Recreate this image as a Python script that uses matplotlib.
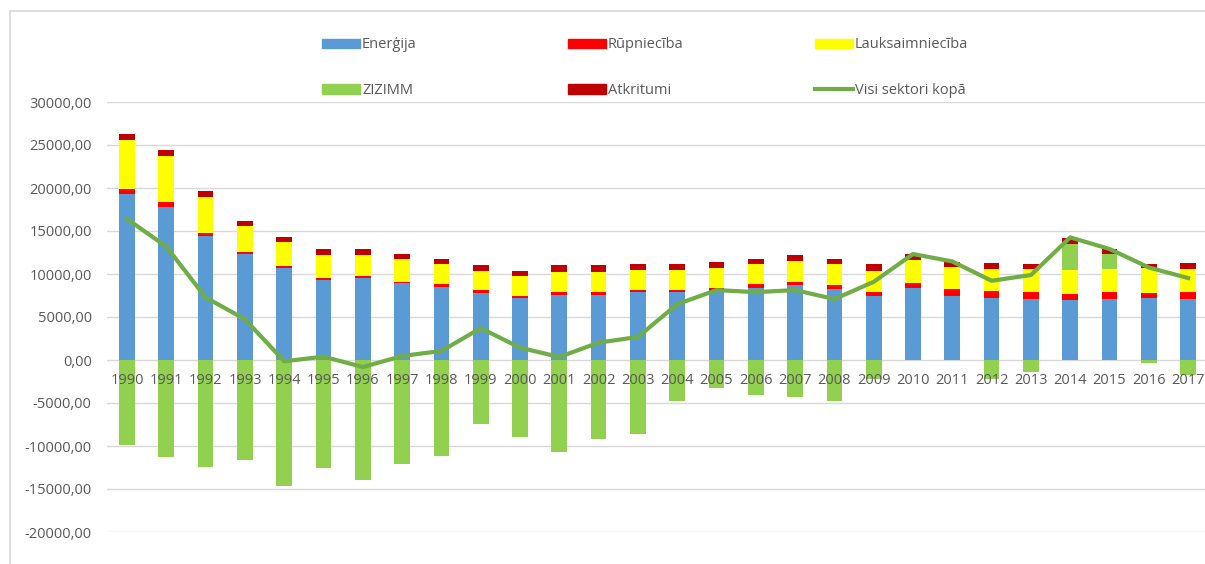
import numpy as np
import matplotlib
matplotlib.use("Agg")
import matplotlib.pyplot as plt
import matplotlib.transforms as mtransforms
from matplotlib.ticker import FuncFormatter, MultipleLocator
from matplotlib.patches import Patch
from matplotlib.lines import Line2D

years = [str(y) for y in range(1990, 2018)]

energija = [19320, 17760, 14460, 12320, 10730, 9330, 9480, 8900, 8510, 7810,
            7190, 7610, 7610, 7850, 7850, 8050, 8360, 8710, 8240, 7500,
            8360, 7500, 7190, 7080, 6960, 7080, 7190, 7080]
rupnieciba = [620, 660, 350, 230, 230, 230, 310, 200, 310, 350,
              230, 270, 270, 310, 310, 270, 470, 380, 470, 430,
              620, 750, 850, 850, 770, 770, 650, 770]
lauksaimnieciba = [5680, 5280, 4160, 2990, 2760, 2650, 2410, 2600, 2330, 2220,
                   2330, 2370, 2370, 2330, 2330, 2410, 2330, 2450, 2400, 2450,
                   2680, 2600, 2570, 2680, 2760, 2760, 2800, 2760]
zizimm = [-9900, -11310, -12400, -11660, -14620, -12590, -13910, -12090, -11110, -7460,
          -8940, -10690, -9170, -8630, -4780, -3300, -4040, -4350, -4780, -2180,
          0, 0, -2260, -1440, 3000, 1710, -390, -1750]
atkritumi = [620, 750, 650, 660, 540, 700, 700, 660, 650, 660,
             650, 780, 780, 660, 660, 660, 620, 660, 660, 780,
             660, 580, 660, 550, 650, 580, 510, 660]
kopa = [16400, 13180, 7270, 4740, -150, 390, -820, 470, 1050, 3700,
        1430, 350, 2020, 2680, 6490, 8130, 7890, 8130, 7080, 9090,
        12320, 11460, 9210, 9880, 14260, 12910, 10760, 9530]

c_en = "#5B9BD5"
c_ru = "#FF0000"
c_la = "#FFFF00"
c_zi = "#92D050"
c_at = "#C00000"
c_line = "#70AD47"
grid_c = "#D9D9D9"
txt_c = "#595959"

plt.rcParams["font.family"] = ["Open Sans", "DejaVu Sans"]
plt.rcParams["font.size"] = 10.5

fig = plt.figure(figsize=(12.05, 5.64), dpi=100)
W, H = 1205, 564
ax = fig.add_axes([107 / W, 32 / H, 1098 / W, 430 / H])

x = np.arange(len(years))
e = np.array(energija)
r = np.array(rupnieciba)
l = np.array(lauksaimnieciba)
z = np.array(zizimm)
a = np.array(atkritumi)
bw = 0.4

ax.set_xlim(-0.51, 27.43)
ax.set_ylim(-20000, 30000)
ax.yaxis.set_major_locator(MultipleLocator(5000))
ax.yaxis.set_major_formatter(FuncFormatter(lambda v, p: f"{v:.2f}".replace(".", ",")))

# gridlines behind the bars
for gy in range(-20000, 30001, 5000):
    ax.axhline(gy, color=grid_c, lw=1, zorder=0.5)

ax.bar(x, e, bw, color=c_en, zorder=2)
ax.bar(x, r, bw, bottom=e, color=c_ru, zorder=2)
ax.bar(x, l, bw, bottom=e + r, color=c_la, zorder=2)
zb = np.where(z > 0, e + r + l, 0)
ax.bar(x, z, bw, bottom=zb, color=c_zi, zorder=2)
ax.bar(x, a, bw, bottom=e + r + l + np.clip(z, 0, None), color=c_at, zorder=2)
ax.plot(x, kopa, color=c_line, lw=3, zorder=3, solid_joinstyle="round")

# year labels just under the zero line, drawn over the bars
ax.set_xticks([])
off = mtransforms.ScaledTranslation(0, -13 / 100, fig.dpi_scale_trans)
for xi, yr in zip(x, years):
    ax.text(xi, 0, yr, ha="center", va="top", color=txt_c, zorder=2.6,
            transform=ax.transData + off)

for s in ax.spines.values():
    s.set_visible(False)
ax.tick_params(axis="y", length=0, pad=11, colors=txt_c)

# chart area border (left and top)
fig.add_artist(Line2D([10 / W, 10 / W], [0, 1 - 11 / H], transform=fig.transFigure, color=grid_c, lw=1.2))
fig.add_artist(Line2D([10 / W, 1], [1 - 11 / H, 1 - 11 / H], transform=fig.transFigure, color=grid_c, lw=1.2))

cols = [
    [(Patch(color=c_en), "Enerģija"), (Patch(color=c_zi), "ZIZIMM")],
    [(Patch(color=c_ru), "Rūpniecība"), (Patch(color=c_at), "Atkritumi")],
    [(Patch(color=c_la), "Lauksaimniecība"), (Line2D([], [], color=c_line, lw=3), "Visi sektori kopā")],
]
xs = [322, 568, 815]
for xp, items in zip(xs, cols):
    lg = fig.legend([h for h, _ in items], [t for _, t in items], loc="upper left",
                    bbox_to_anchor=(xp / W, 1 - 37.5 / H), frameon=False,
                    handlelength=2.6, handleheight=0.6, handletextpad=0.15,
                    labelspacing=2.1, borderpad=0, borderaxespad=0)
    for t in lg.get_texts():
        t.set_color(txt_c)

fig.savefig("out.png", dpi=100)
